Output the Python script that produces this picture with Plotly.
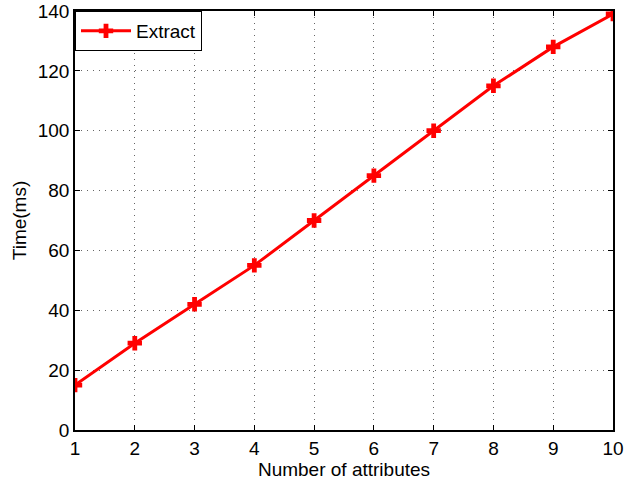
import plotly.graph_objects as go

attributes = [1, 2, 3, 4, 5, 6, 7, 8, 9, 10]
extract_ms = [15, 29, 42, 55, 70, 85, 100, 115, 128, 139]
x_ticks = list(range(1, 11))
y_ticks = list(range(0, 141, 20))

FONT = "Liberation Sans, Arial"
FS = 19

fig = go.Figure()
fig.add_trace(go.Scatter(
    x=attributes, y=extract_ms, mode="lines+markers", name="Extract",
    line=dict(color="#ff0000", width=3),
    marker=dict(symbol="cross", size=12, color="#ff0000"),
))

axis_common = dict(
    showline=True, linecolor="black", linewidth=1.5, mirror="ticks",
    ticks="inside", ticklen=5, tickcolor="black",
    showgrid=True, gridcolor="#666666", griddash="1px,5px", gridwidth=1,
    zeroline=False, automargin=False,
    tickfont=dict(size=FS, color="black", family=FONT),
)
fig.update_xaxes(range=[1, 10], tickvals=x_ticks, title=dict(text="Number of attributes", standoff=0,
                 font=dict(size=FS, color="black", family=FONT)), **axis_common)
fig.update_yaxes(range=[0, 140], tickvals=y_ticks, title=dict(text="Time(ms)", standoff=6,
                 font=dict(size=FS, color="black", family=FONT)), **axis_common)

fig.update_layout(
    width=628, height=481,
    margin=dict(l=75, r=15, t=11, b=51, autoexpand=False),
    plot_bgcolor="white", paper_bgcolor="white",
    showlegend=True,
    legend=dict(x=0.0, y=1.0, xanchor="left", yanchor="top", bordercolor="black", borderwidth=1,
                bgcolor="white", font=dict(size=FS, color="black", family=FONT),
                itemwidth=50, tracegroupgap=0),
    font=dict(family=FONT),
)
fig.write_html("out.html", config={"displayModeBar": False},
               post_script="document.body.style.margin='0';")
